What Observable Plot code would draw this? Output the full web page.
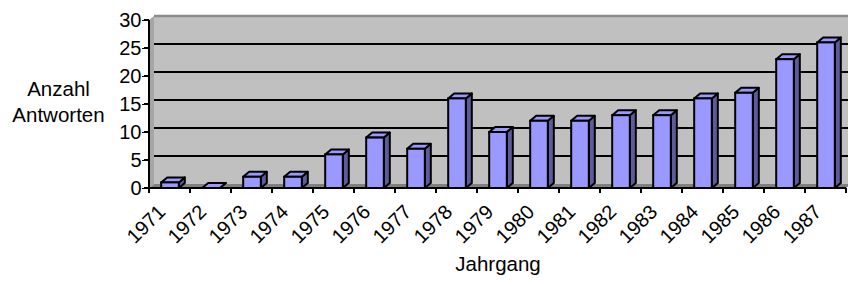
<!DOCTYPE html>
<html>
<head>
<meta charset="utf-8">
<script src="https://cdn.jsdelivr.net/npm/d3@7"></script>
<script src="https://cdn.jsdelivr.net/npm/@observablehq/plot@0.6"></script>
<style>
  html, body { margin: 0; padding: 0; background: #fff; }
</style>
</head>
<body>
<div id="chart"></div>
<script>
// ---- data ----
const years = ["1971","1972","1973","1974","1975","1976","1977","1978","1979",
               "1980","1981","1982","1983","1984","1985","1986","1987"];
const antworten = [1, 0, 2, 2, 6, 9, 7, 16, 10, 12, 12, 13, 13, 16, 17, 23, 26];
const yTicks = [0, 5, 10, 15, 20, 25, 30];
const yLabel = "Anzahl\nAntworten";
const xLabel = "Jahrgang";

const data = years.map((y, i) => ({year: y, value: antworten[i]}));

// 3D style
const wallD = [5, -4];
const barD = [6, -5];

function chart3d(index, scales) {
  const x = scales.x, y = scales.y;
  const step = x.bandwidth ? x.step() : x(years[1]) - x(years[0]);
  const x0 = x(years[0]);
  const xEnd = x(years[years.length - 1]) + step;
  const y0 = y(0), yTop = y(yTicks[yTicks.length - 1]);
  const g = d3.create("svg:g");
  const poly = (pts) => pts.map(p => p.join(",")).join(" ");
  // left side wall
  g.append("polygon").attr("points", poly([[x0, yTop], [x0 + wallD[0], yTop + wallD[1]], [x0 + wallD[0], y0 + wallD[1]], [x0, y0]]))
    .attr("fill", "#a6a6a6");
  // back wall
  g.append("rect").attr("x", x0 + wallD[0]).attr("y", yTop + wallD[1])
    .attr("width", xEnd - x0).attr("height", y0 - yTop).attr("fill", "#c0c0c0");
  g.append("line").attr("x1", x0 + wallD[0]).attr("x2", xEnd + wallD[0])
    .attr("y1", yTop + wallD[1]).attr("y2", yTop + wallD[1]).attr("stroke", "#8c8c8c").attr("stroke-width", 2.5);
  // gridlines
  for (const t of yTicks.slice(1, -1)) {
    g.append("line").attr("x1", x0 + wallD[0]).attr("x2", xEnd + wallD[0])
      .attr("y1", y(t) + wallD[1]).attr("y2", y(t) + wallD[1]).attr("stroke", "#000").attr("stroke-width", 2);
  }
  // floor
  g.append("polygon").attr("points", poly([[x0, y0], [xEnd, y0], [xEnd + wallD[0], y0 + wallD[1]], [x0 + wallD[0], y0 + wallD[1]]]))
    .attr("fill", "#808080");
  // bars
  const w = step * 0.43;
  data.forEach((d) => {
    const cx = x(d.year) + step / 2 + 0.5;
    const fx1 = cx - w / 2, fx2 = cx + w / 2, ft = y(d.value), fb = y0;
    const [dx, dy] = barD;
    g.append("polygon").attr("points", poly([[fx2, ft], [fx2 + dx, ft + dy], [fx2 + dx, fb + dy], [fx2, fb]]))
      .attr("fill", "#5c5c9c").attr("stroke", "#000").attr("stroke-width", 2).attr("stroke-linejoin", "round");
    g.append("polygon").attr("points", poly([[fx1, ft], [fx2, ft], [fx2 + dx, ft + dy], [fx1 + dx, ft + dy]]))
      .attr("fill", "#9999ff").attr("stroke", "#000").attr("stroke-width", 2).attr("stroke-linejoin", "round");
    g.append("rect").attr("x", fx1).attr("y", ft).attr("width", w).attr("height", fb - ft)
      .attr("fill", "#9999ff").attr("stroke", "#000").attr("stroke-width", 2);
  });
  // axis lines
  g.append("line").attr("x1", x0).attr("x2", x0).attr("y1", yTop).attr("y2", y0 + 1).attr("stroke", "#000").attr("stroke-width", 2);
  g.append("line").attr("x1", x0).attr("x2", xEnd).attr("y1", y0).attr("y2", y0).attr("stroke", "#000").attr("stroke-width", 2);
  for (const t of yTicks) {
    g.append("line").attr("x1", x0 - 5).attr("x2", x0).attr("y1", y(t)).attr("y2", y(t)).attr("stroke", "#000").attr("stroke-width", 2);
  }
  for (let i = 0; i <= years.length; i++) {
    const xx = x0 + i * step;
    g.append("line").attr("x1", xx).attr("x2", xx).attr("y1", y0).attr("y2", y0 + 5).attr("stroke", "#000").attr("stroke-width", 2);
  }
  return g.node();
}

const plot = Plot.plot({
  width: 848,
  height: 286,
  marginLeft: 147,
  marginRight: 0,
  marginTop: 20,
  marginBottom: 98,
  style: {fontFamily: "'Liberation Sans', Arial, sans-serif", fontSize: "20px", color: "#000", background: "#fff", overflow: "visible"},
  x: {type: "band", domain: years, padding: 0},
  y: {domain: [0, 30]},
  marks: [
    chart3d,
    Plot.axisY({ticks: yTicks, tickSize: 5, tickPadding: 1, label: null, fontSize: 20}),
    Plot.axisX({tickSize: 0, tickRotate: -45, tickPadding: 14, label: null, dx: -8, dy: 6, fontSize: 20}),
    Plot.text([yLabel], {frameAnchor: "left", textAnchor: "middle", dx: -89, dy: -4, lineHeight: 1.25, fontSize: 20.5}),
    Plot.text([xLabel], {frameAnchor: "bottom", textAnchor: "middle", dy: 82, fontSize: 20.5})
  ]
});
document.getElementById("chart").appendChild(plot);
</script>
</body>
</html>
